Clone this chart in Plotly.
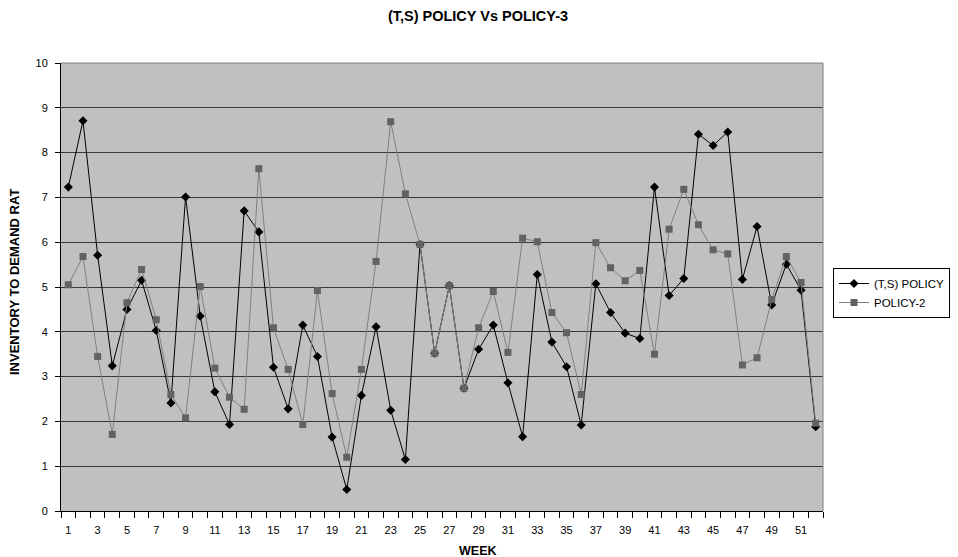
import plotly.graph_objects as go

weeks = list(range(1, 53))
ts_policy = [7.23, 8.71, 5.71, 3.24, 4.50, 5.15, 4.03, 2.41, 7.01, 4.35,
             2.66, 1.93, 6.70, 6.23, 3.21, 2.28, 4.15, 3.45, 1.65, 0.48,
             2.58, 4.11, 2.25, 1.15, 5.95, 3.52, 5.03, 2.74, 3.61, 4.15,
             2.86, 1.66, 5.28, 3.77, 3.22, 1.92, 5.07, 4.43, 3.97, 3.85,
             7.23, 4.81, 5.19, 8.41, 8.16, 8.46, 5.17, 6.35, 4.60, 5.51,
             4.93, 1.88]
policy_2 = [5.05, 5.68, 3.45, 1.71, 4.65, 5.39, 4.27, 2.60, 2.08, 5.01,
            3.19, 2.54, 2.27, 7.64, 4.09, 3.16, 1.93, 4.92, 2.62, 1.20,
            3.16, 5.57, 8.69, 7.08, 5.95, 3.52, 5.03, 2.74, 4.09, 4.90,
            3.54, 6.09, 6.01, 4.43, 3.98, 2.60, 5.99, 5.43, 5.14, 5.37,
            3.50, 6.29, 7.18, 6.39, 5.83, 5.74, 3.26, 3.42, 4.72, 5.68,
            5.10, 1.96]
x_tick_labels = [str(w) for w in range(1, 53, 2)]
y_ticks = list(range(0, 11))

FONT = "Liberation Sans, Arial, sans-serif"

# page body has an 8px margin; figure laid out in its own coordinates
W, H = 950, 549
L, T, PW, PH = 53, 55, 762, 448

fig = go.Figure()
fig.add_trace(go.Scatter(
    x=weeks, y=ts_policy, name="(T,S) POLICY", mode="lines+markers",
    line=dict(color="#000000", width=1),
    marker=dict(symbol="diamond", size=7, color="#000000"),
))
fig.add_trace(go.Scatter(
    x=weeks, y=policy_2, name="POLICY-2", mode="lines+markers",
    line=dict(color="#808080", width=1),
    marker=dict(symbol="square", size=7, color="#626262"),
))

fig.update_layout(
    width=W, height=H,
    margin=dict(l=L, r=W - L - PW, t=T, b=H - T - PH, autoexpand=False),
    paper_bgcolor="#ffffff", plot_bgcolor="#c0c0c0",
    font=dict(family=FONT, size=11, color="#000000"),
    title=dict(text="<b>(T,S) POLICY Vs POLICY-3</b>", x=470/W, xanchor="center",
               y=1 - 8/H, yanchor="middle", font=dict(size=14.5, family=FONT)),
    showlegend=True,
    legend=dict(x=(825-L)/PW, y=(T+PH-260)/PH, xanchor="left", yanchor="top",
                bgcolor="#ffffff", bordercolor="#000000", borderwidth=1,
                font=dict(size=11.5, family=FONT), tracegroupgap=0),
)

fig.update_xaxes(
    range=[0.5, 52.5], showgrid=False, zeroline=False,
    tickmode="array", tickvals=list(range(1, 53, 2)), ticktext=x_tick_labels,
    ticks="outside", ticklen=6, tickcolor="rgba(0,0,0,0)", ticklabelstandoff=3,
    minor=dict(tickmode="linear", tick0=0.5, dtick=1, ticks="outside", ticklen=6,
               tickcolor="#000000", showgrid=False),
    showline=True, linecolor="#000000", linewidth=1,
    tickfont=dict(size=11),
)
fig.update_yaxes(
    range=[0, 10], tickmode="array", tickvals=y_ticks,
    showgrid=True, gridcolor="#383838", gridwidth=1, zeroline=False,
    ticks="outside", ticklen=5, tickcolor="#000000", ticklabelstandoff=5,
    showline=True, linecolor="#000000", linewidth=1,
    tickfont=dict(size=11),
)

fig.add_shape(type="line", xref="paper", yref="paper", x0=1, x1=1, y0=0, y1=1,
              line=dict(color="#808080", width=1))
fig.add_shape(type="line", xref="paper", yref="paper", x0=0, x1=1, y0=1, y1=1,
              line=dict(color="#808080", width=1))

fig.add_annotation(text="<b>INVENTORY TO DEMAND RAT</b>", xref="paper", yref="paper",
                   x=(6-L)/PW, y=(T+PH-274)/PH, xanchor="center", yanchor="middle",
                   textangle=-90, showarrow=False, font=dict(size=13, family=FONT))
fig.add_annotation(text="<b>WEEK</b>", xref="paper", yref="paper",
                   x=(470-L)/PW, y=(T+PH-542.7)/PH, xanchor="center", yanchor="middle",
                   showarrow=False, font=dict(size=12.5, family=FONT))

fig.write_html("out.html")
